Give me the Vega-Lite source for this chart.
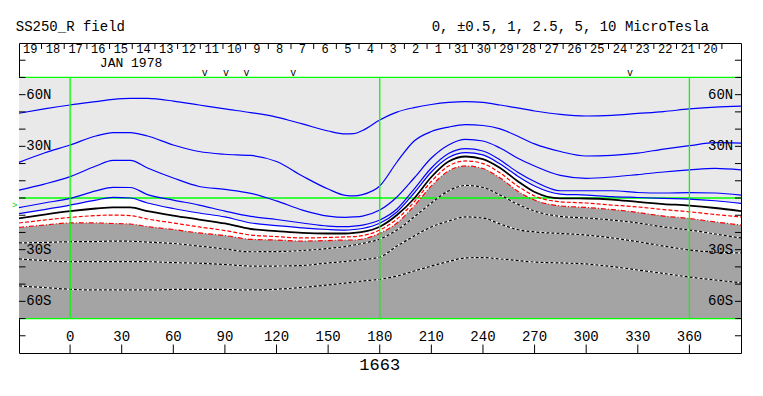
{
  "$schema": "https://vega.github.io/schema/vega-lite/v6.json",
  "width": 722,
  "height": 310,
  "autosize": {"type": "none"},
  "padding": {"left": 19, "top": 43, "right": 22, "bottom": 43},
  "background": "white",
  "config": {"view": {"stroke": "black", "strokeWidth": 1}, "text": {"font": "Liberation Mono", "fontSize": 14, "color": "black"}},
  "datasets": {
    "contours": [
      {"lon": -29.7, "L1": 49.2, "L2": 20.7, "L3": 4.6, "L4": -5.6, "L5": -9.1, "n0": -11.8, "m1": -14.5, "m2": -17.1, "m3": -26.1, "m4": -35.4, "m5": -51.1, "floor": -70},
      {"lon": -15, "L1": 51.7, "L2": 26.1, "L3": 8.1, "L4": -2.9, "L5": -6.7, "n0": -9.6, "m1": -12.8, "m2": -15.7, "m3": -25.8, "m4": -36.3, "m5": -52.0, "floor": -70},
      {"lon": 0, "L1": 54.0, "L2": 30.8, "L3": 12.4, "L4": -0.2, "L5": -4.1, "n0": -7.6, "m1": -11.3, "m2": -14.5, "m3": -25.4, "m4": -37.0, "m5": -53.0, "floor": -70},
      {"lon": 15, "L1": 56.0, "L2": 36.0, "L3": 18.6, "L4": 4.1, "L5": -1.2, "n0": -6.1, "m1": -10.2, "m2": -14.5, "m3": -25.3, "m4": -37.0, "m5": -53.4, "floor": -70},
      {"lon": 25, "L1": 57.3, "L2": 38.0, "L3": 21.8, "L4": 6.2, "L5": 0.4, "n0": -5.4, "m1": -9.9, "m2": -14.8, "m3": -25.0, "m4": -37.0, "m5": -53.4, "floor": -70},
      {"lon": 35, "L1": 57.9, "L2": 38.0, "L3": 21.8, "L4": 6.1, "L5": 0.0, "n0": -5.5, "m1": -10.2, "m2": -15.1, "m3": -25.1, "m4": -37.0, "m5": -53.4, "floor": -70},
      {"lon": 45, "L1": 57.8, "L2": 36.0, "L3": 17.4, "L4": 2.0, "L5": -2.9, "n0": -7.6, "m1": -12.2, "m2": -16.6, "m3": -25.6, "m4": -37.0, "m5": -53.4, "floor": -70},
      {"lon": 60, "L1": 56.3, "L2": 30.8, "L3": 11.6, "L4": -1.2, "L5": -6.1, "n0": -10.2, "m1": -14.5, "m2": -18.3, "m3": -26.4, "m4": -37.5, "m5": -53.1, "floor": -70},
      {"lon": 75, "L1": 54.0, "L2": 27.0, "L3": 6.7, "L4": -4.1, "L5": -8.7, "n0": -12.5, "m1": -16.8, "m2": -20.3, "m3": -27.9, "m4": -37.9, "m5": -53.0, "floor": -70},
      {"lon": 90, "L1": 51.7, "L2": 25.4, "L3": 5.0, "L4": -7.6, "L5": -11.0, "n0": -14.8, "m1": -18.9, "m2": -21.8, "m3": -29.6, "m4": -38.6, "m5": -53.1, "floor": -70},
      {"lon": 105, "L1": 49.6, "L2": 24.7, "L3": 2.7, "L4": -10.7, "L5": -14.5, "n0": -18.0, "m1": -21.5, "m2": -24.0, "m3": -31.2, "m4": -39.5, "m5": -53.4, "floor": -70},
      {"lon": 120, "L1": 47.0, "L2": 21.2, "L3": -1.7, "L4": -12.5, "L5": -16.0, "n0": -19.2, "m1": -22.4, "m2": -24.4, "m3": -31.1, "m4": -39.5, "m5": -53.0, "floor": -70},
      {"lon": 135, "L1": 43.0, "L2": 12.8, "L3": -7.0, "L4": -14.5, "L5": -17.4, "n0": -20.3, "m1": -23.2, "m2": -25.0, "m3": -30.5, "m4": -39.2, "m5": -51.9, "floor": -70},
      {"lon": 150, "L1": 38.9, "L2": 5.2, "L3": -10.5, "L4": -16.3, "L5": -18.3, "n0": -20.6, "m1": -22.9, "m2": -24.7, "m3": -29.3, "m4": -37.7, "m5": -50.5, "floor": -70},
      {"lon": 160, "L1": 37.2, "L2": 1.5, "L3": -11.2, "L4": -16.6, "L5": -18.6, "n0": -20.6, "m1": -22.6, "m2": -24.4, "m3": -28.2, "m4": -36.9, "m5": -49.4, "floor": -70},
      {"lon": 165, "L1": 37.4, "L2": 1.2, "L3": -11.0, "L4": -16.3, "L5": -18.3, "n0": -20.3, "m1": -22.4, "m2": -24.4, "m3": -27.3, "m4": -36.3, "m5": -48.8, "floor": -70},
      {"lon": 170, "L1": 39.2, "L2": 2.0, "L3": -10.5, "L4": -15.7, "L5": -17.7, "n0": -19.7, "m1": -21.8, "m2": -23.8, "m3": -26.4, "m4": -35.7, "m5": -48.2, "floor": -70},
      {"lon": 180, "L1": 45.3, "L2": 7.0, "L3": -7.0, "L4": -12.8, "L5": -14.7, "n0": -16.7, "m1": -18.6, "m2": -20.5, "m3": -23.8, "m4": -34.3, "m5": -47.2, "floor": -70},
      {"lon": 190, "L1": 49.9, "L2": 20.9, "L3": 0.6, "L4": -6.4, "L5": -8.1, "n0": -9.9, "m1": -12.2, "m2": -14.5, "m3": -18.6, "m4": -27.9, "m5": -45.3, "floor": -70},
      {"lon": 200, "L1": 52.5, "L2": 33.1, "L3": 11.6, "L4": 5.2, "L5": 2.9, "n0": -0.3, "m1": -2.3, "m2": -4.6, "m3": -11.0, "m4": -22.1, "m5": -42.4, "floor": -70},
      {"lon": 210, "L1": 54.3, "L2": 38.6, "L3": 23.2, "L4": 17.4, "L5": 15.1, "n0": 12.2, "m1": 9.6, "m2": 7.0, "m3": -2.9, "m4": -16.8, "m5": -39.5, "floor": -70},
      {"lon": 220, "L1": 55.5, "L2": 41.2, "L3": 30.8, "L4": 25.8, "L5": 23.5, "n0": 21.2, "m1": 18.6, "m2": 15.7, "m3": 4.1, "m4": -13.4, "m5": -36.9, "floor": -70},
      {"lon": 230, "L1": 56.0, "L2": 42.6, "L3": 34.0, "L4": 28.7, "L5": 26.4, "n0": 24.1, "m1": 21.5, "m2": 18.6, "m3": 7.3, "m4": -11.0, "m5": -34.8, "floor": -70},
      {"lon": 240, "L1": 55.5, "L2": 42.1, "L3": 33.1, "L4": 27.3, "L5": 25.0, "n0": 22.6, "m1": 20.0, "m2": 17.1, "m3": 6.1, "m4": -11.6, "m5": -34.6, "floor": -70},
      {"lon": 250, "L1": 54.0, "L2": 40.1, "L3": 29.0, "L4": 22.1, "L5": 19.7, "n0": 17.4, "m1": 14.5, "m2": 11.6, "m3": 1.7, "m4": -15.1, "m5": -35.4, "floor": -70},
      {"lon": 260, "L1": 52.3, "L2": 36.0, "L3": 23.2, "L4": 15.1, "L5": 12.8, "n0": 9.9, "m1": 7.0, "m2": 4.1, "m3": -3.5, "m4": -18.3, "m5": -36.3, "floor": -70},
      {"lon": 270, "L1": 50.5, "L2": 31.4, "L3": 18.6, "L4": 9.6, "L5": 7.0, "n0": 3.5, "m1": 1.2, "m2": -1.2, "m3": -7.6, "m4": -19.7, "m5": -37.2, "floor": -70},
      {"lon": 285, "L1": 48.5, "L2": 27.0, "L3": 13.1, "L4": 4.2, "L5": 2.3, "n0": -0.2, "m1": -2.2, "m2": -4.6, "m3": -10.7, "m4": -20.6, "m5": -37.7, "floor": -70},
      {"lon": 300, "L1": 47.6, "L2": 24.4, "L3": 11.4, "L4": 4.2, "L5": 1.7, "n0": -0.3, "m1": -2.9, "m2": -5.5, "m3": -11.6, "m4": -21.5, "m5": -38.3, "floor": -70},
      {"lon": 315, "L1": 48.0, "L2": 24.8, "L3": 12.2, "L4": 4.2, "L5": 0.8, "n0": -0.9, "m1": -4.1, "m2": -6.7, "m3": -12.8, "m4": -23.2, "m5": -39.8, "floor": -70},
      {"lon": 330, "L1": 49.1, "L2": 26.1, "L3": 13.6, "L4": 3.2, "L5": 0.3, "n0": -2.3, "m1": -5.2, "m2": -8.4, "m3": -14.5, "m4": -25.4, "m5": -41.8, "floor": -70},
      {"lon": 345, "L1": 50.2, "L2": 28.4, "L3": 15.1, "L4": 2.9, "L5": -0.2, "n0": -3.5, "m1": -6.7, "m2": -10.5, "m3": -16.8, "m4": -27.9, "m5": -43.8, "floor": -70},
      {"lon": 360, "L1": 51.7, "L2": 30.4, "L3": 16.3, "L4": 3.1, "L5": -0.6, "n0": -4.4, "m1": -8.0, "m2": -11.9, "m3": -18.6, "m4": -30.2, "m5": -45.9, "floor": -70},
      {"lon": 375, "L1": 52.8, "L2": 32.1, "L3": 17.2, "L4": 2.9, "L5": -1.6, "n0": -5.8, "m1": -9.6, "m2": -13.9, "m3": -20.9, "m4": -31.4, "m5": -47.6, "floor": -70},
      {"lon": 390, "L1": 53.4, "L2": 31.9, "L3": 16.3, "L4": 1.7, "L5": -3.1, "n0": -7.6, "m1": -11.0, "m2": -15.7, "m3": -23.2, "m4": -31.9, "m5": -49.2, "floor": -70}
    ],
    "dates": [
      {"lon": -23.2, "lat": 86.5, "label": "19"}, {"lon": -10.0, "lat": 86.5, "label": "18"}, {"lon": 3.2, "lat": 86.5, "label": "17"}, {"lon": 16.4, "lat": 86.5, "label": "16"},
      {"lon": 29.5, "lat": 86.5, "label": "15"}, {"lon": 42.7, "lat": 86.5, "label": "14"}, {"lon": 55.9, "lat": 86.5, "label": "13"}, {"lon": 69.1, "lat": 86.5, "label": "12"},
      {"lon": 82.3, "lat": 86.5, "label": "11"}, {"lon": 95.5, "lat": 86.5, "label": "10"}, {"lon": 108.6, "lat": 86.5, "label": "9"}, {"lon": 121.8, "lat": 86.5, "label": "8"},
      {"lon": 135.0, "lat": 86.5, "label": "7"}, {"lon": 148.2, "lat": 86.5, "label": "6"}, {"lon": 161.4, "lat": 86.5, "label": "5"}, {"lon": 174.6, "lat": 86.5, "label": "4"},
      {"lon": 187.7, "lat": 86.5, "label": "3"}, {"lon": 200.9, "lat": 86.5, "label": "2"}, {"lon": 214.1, "lat": 86.5, "label": "1"}, {"lon": 227.3, "lat": 86.5, "label": "31"},
      {"lon": 240.5, "lat": 86.5, "label": "30"}, {"lon": 253.7, "lat": 86.5, "label": "29"}, {"lon": 266.8, "lat": 86.5, "label": "28"}, {"lon": 280.0, "lat": 86.5, "label": "27"},
      {"lon": 293.2, "lat": 86.5, "label": "26"}, {"lon": 306.4, "lat": 86.5, "label": "25"}, {"lon": 319.6, "lat": 86.5, "label": "24"}, {"lon": 332.8, "lat": 86.5, "label": "23"},
      {"lon": 345.9, "lat": 86.5, "label": "22"}, {"lon": 359.1, "lat": 86.5, "label": "21"}, {"lon": 372.3, "lat": 86.5, "label": "20"}
    ],
    "vrules": [
      {"lon": -16.6, "lat": 90, "lat2": 86.5}, {"lon": -3.42, "lat": 90, "lat2": 86.5}, {"lon": 9.77, "lat": 90, "lat2": 86.5}, {"lon": 22.95, "lat": 90, "lat2": 86.5},
      {"lon": 36.13, "lat": 90, "lat2": 86.5}, {"lon": 49.32, "lat": 90, "lat2": 86.5}, {"lon": 62.5, "lat": 90, "lat2": 86.5}, {"lon": 75.68, "lat": 90, "lat2": 86.5},
      {"lon": 88.86, "lat": 90, "lat2": 86.5}, {"lon": 102.05, "lat": 90, "lat2": 86.5}, {"lon": 115.23, "lat": 90, "lat2": 86.5}, {"lon": 128.41, "lat": 90, "lat2": 86.5},
      {"lon": 141.6, "lat": 90, "lat2": 86.5}, {"lon": 154.78, "lat": 90, "lat2": 86.5}, {"lon": 167.96, "lat": 90, "lat2": 86.5}, {"lon": 181.15, "lat": 90, "lat2": 86.5},
      {"lon": 194.33, "lat": 90, "lat2": 86.5}, {"lon": 207.51, "lat": 90, "lat2": 86.5}, {"lon": 220.69, "lat": 90, "lat2": 86.5}, {"lon": 233.88, "lat": 90, "lat2": 86.5},
      {"lon": 247.06, "lat": 90, "lat2": 86.5}, {"lon": 260.24, "lat": 90, "lat2": 86.5}, {"lon": 273.43, "lat": 90, "lat2": 86.5}, {"lon": 286.61, "lat": 90, "lat2": 86.5},
      {"lon": 299.79, "lat": 90, "lat2": 86.5}, {"lon": 312.98, "lat": 90, "lat2": 86.5}, {"lon": 326.16, "lat": 90, "lat2": 86.5}, {"lon": 339.34, "lat": 90, "lat2": 86.5},
      {"lon": 352.52, "lat": 90, "lat2": 86.5}, {"lon": 365.71, "lat": 90, "lat2": 86.5}, {"lon": 378.89, "lat": 90, "lat2": 86.5},
      {"lon": 0, "lat": -85.1, "lat2": -90}, {"lon": 30, "lat": -85.1, "lat2": -90}, {"lon": 60, "lat": -85.1, "lat2": -90}, {"lon": 90, "lat": -85.1, "lat2": -90},
      {"lon": 120, "lat": -85.1, "lat2": -90}, {"lon": 150, "lat": -85.1, "lat2": -90}, {"lon": 180, "lat": -85.1, "lat2": -90}, {"lon": 210, "lat": -85.1, "lat2": -90},
      {"lon": 240, "lat": -85.1, "lat2": -90}, {"lon": 270, "lat": -85.1, "lat2": -90}, {"lon": 300, "lat": -85.1, "lat2": -90}, {"lon": 330, "lat": -85.1, "lat2": -90},
      {"lon": 360, "lat": -85.1, "lat2": -90}
    ],
    "hrules": [
      {"lat": -80, "lon": -29.7, "lon2": -25.9}, {"lat": -70, "lon": -29.7, "lon2": -25.9}, {"lat": -60, "lon": -29.7, "lon2": -25.9}, {"lat": -50, "lon": -29.7, "lon2": -25.9},
      {"lat": -40, "lon": -29.7, "lon2": -25.9}, {"lat": -30, "lon": -29.7, "lon2": -25.9}, {"lat": -20, "lon": -29.7, "lon2": -25.9}, {"lat": -10, "lon": -29.7, "lon2": -25.9},
      {"lat": 0, "lon": -29.7, "lon2": -25.9}, {"lat": 10, "lon": -29.7, "lon2": -25.9}, {"lat": 20, "lon": -29.7, "lon2": -25.9}, {"lat": 30, "lon": -29.7, "lon2": -25.9},
      {"lat": 40, "lon": -29.7, "lon2": -25.9}, {"lat": 50, "lon": -29.7, "lon2": -25.9}, {"lat": 60, "lon": -29.7, "lon2": -25.9}, {"lat": 70, "lon": -29.7, "lon2": -25.9},
      {"lat": 80, "lon": -29.7, "lon2": -25.9},
      {"lat": -80, "lon": 386.5, "lon2": 390}, {"lat": -70, "lon": 386.5, "lon2": 390}, {"lat": -60, "lon": 386.5, "lon2": 390}, {"lat": -50, "lon": 386.5, "lon2": 390},
      {"lat": -40, "lon": 386.5, "lon2": 390}, {"lat": -30, "lon": 386.5, "lon2": 390}, {"lat": -20, "lon": 386.5, "lon2": 390}, {"lat": -10, "lon": 386.5, "lon2": 390},
      {"lat": 0, "lon": 386.5, "lon2": 390}, {"lat": 10, "lon": 386.5, "lon2": 390}, {"lat": 20, "lon": 386.5, "lon2": 390}, {"lat": 30, "lon": 386.5, "lon2": 390},
      {"lat": 40, "lon": 386.5, "lon2": 390}, {"lat": 50, "lon": 386.5, "lon2": 390}, {"lat": 60, "lon": 386.5, "lon2": 390}, {"lat": 70, "lon": 386.5, "lon2": 390},
      {"lat": 80, "lon": 386.5, "lon2": 390}
    ],
    "labels": [
      {"lon": 0, "lat": -80.9, "label": "0"}, {"lon": 30, "lat": -80.9, "label": "30"},
      {"lon": 60, "lat": -80.9, "label": "60"}, {"lon": 90, "lat": -80.9, "label": "90"},
      {"lon": 120, "lat": -80.9, "label": "120"}, {"lon": 150, "lat": -80.9, "label": "150"},
      {"lon": 180, "lat": -80.9, "label": "180"}, {"lon": 210, "lat": -80.9, "label": "210"},
      {"lon": 240, "lat": -80.9, "label": "240"}, {"lon": 270, "lat": -80.9, "label": "270"},
      {"lon": 300, "lat": -80.9, "label": "300"}, {"lon": 330, "lat": -80.9, "label": "330"},
      {"lon": 360, "lat": -80.9, "label": "360"}
    ],
    "leftLabels": [
      {"lon": -25.5, "lat": 60, "label": "60N"}, {"lon": -25.5, "lat": 30, "label": "30N"}, {"lon": -25.5, "lat": -30, "label": "30S"}, {"lon": -25.5, "lat": -60, "label": "60S"},
      {"lon": -31.6, "lat": 99.1, "label": "SS250_R field"},
      {"lon": 210.2, "lat": 99.1, "label": "0, ±0.5, 1, 2.5, 5, 10 MicroTesla"}
    ],
    "rightLabels": [
      {"lon": 385.5, "lat": 60, "label": "60N"}, {"lon": 385.5, "lat": 30, "label": "30N"}, {"lon": 385.5, "lat": -30, "label": "30S"}, {"lon": 385.5, "lat": -60, "label": "60S"}
    ],
    "obs": [
      {"lon": 78.3, "lat": 70.6, "label": "v"}, {"lon": 90.6, "lat": 70.6, "label": "v"}, {"lon": 102.6, "lat": 70.6, "label": "v"}, {"lon": 129.7, "lat": 70.6, "label": "v"}, {"lon": 325.5, "lat": 70.6, "label": "v"}
    ]
  },
  "layer": [
    {
      "data": {"values": [{"lon": -29.7, "lon2": 390, "lat": 70, "lat2": -70}]},
      "mark": {"type": "rect", "fill": "#e9e9e9"},
      "encoding": {
        "x": {"field": "lon", "type": "quantitative", "scale": {"domain": [-29.7, 390], "nice": false, "zero": false}, "axis": null},
        "x2": {"field": "lon2"},
        "y": {"field": "lat", "type": "quantitative", "scale": {"domain": [-90, 90], "nice": false, "zero": false}, "axis": null},
        "y2": {"field": "lat2"}
      }
    },
    {
      "data": {"name": "contours"},
      "mark": {"type": "area", "color": "white", "interpolate": "monotone"},
      "encoding": {
        "x": {"field": "lon", "type": "quantitative", "axis": null},
        "y": {"field": "L5", "type": "quantitative", "axis": null},
        "y2": {"field": "floor"}
      }
    },
    {
      "data": {"name": "contours"},
      "mark": {"type": "area", "color": "#a4a4a4", "interpolate": "monotone"},
      "encoding": {
        "x": {"field": "lon", "type": "quantitative", "axis": null},
        "y": {"field": "m2", "type": "quantitative", "axis": null},
        "y2": {"field": "floor"}
      }
    },
    {
      "data": {"values": [{"lat": 0}, {"lat": 70}, {"lat": -70}]},
      "mark": {"type": "rule", "color": "#00ff00", "strokeWidth": 1.3},
      "encoding": {
        "y": {"field": "lat", "type": "quantitative", "axis": null}
      }
    },
    {
      "data": {"name": "contours"},
      "transform": [{"fold": ["m3", "m4", "m5"], "as": ["line", "lat"]}],
      "mark": {"type": "line", "color": "white", "strokeWidth": 1.2, "interpolate": "monotone"},
      "encoding": {
        "x": {"field": "lon", "type": "quantitative", "axis": null},
        "y": {"field": "lat", "type": "quantitative", "axis": null},
        "detail": {"field": "line", "type": "nominal"}
      }
    },
    {
      "data": {"name": "contours"},
      "transform": [{"fold": ["m3", "m4", "m5"], "as": ["line", "lat"]}],
      "mark": {"type": "line", "color": "black", "strokeWidth": 1.2, "strokeDash": [3, 2], "interpolate": "monotone"},
      "encoding": {
        "x": {"field": "lon", "type": "quantitative", "axis": null},
        "y": {"field": "lat", "type": "quantitative", "axis": null},
        "detail": {"field": "line", "type": "nominal"}
      }
    },
    {
      "data": {"name": "contours"},
      "transform": [{"fold": ["L1", "L2", "L3", "L4", "L5"], "as": ["line", "lat"]}],
      "mark": {"type": "line", "color": "#0000ff", "strokeWidth": 1.2, "interpolate": "monotone"},
      "encoding": {
        "x": {"field": "lon", "type": "quantitative", "axis": null},
        "y": {"field": "lat", "type": "quantitative", "axis": null},
        "detail": {"field": "line", "type": "nominal"}
      }
    },
    {
      "data": {"name": "contours"},
      "mark": {"type": "line", "color": "black", "strokeWidth": 1.8, "interpolate": "monotone"},
      "encoding": {
        "x": {"field": "lon", "type": "quantitative", "axis": null},
        "y": {"field": "n0", "type": "quantitative", "axis": null}
      }
    },
    {
      "data": {"name": "contours"},
      "mark": {"type": "line", "color": "#ff0000", "strokeWidth": 1.2, "strokeDash": [4, 2], "interpolate": "monotone"},
      "encoding": {
        "x": {"field": "lon", "type": "quantitative", "axis": null},
        "y": {"field": "m1", "type": "quantitative", "axis": null}
      }
    },
    {
      "data": {"name": "contours"},
      "mark": {"type": "line", "color": "#ff0000", "strokeWidth": 1.2, "strokeDash": [5, 2, 1, 2], "interpolate": "monotone"},
      "encoding": {
        "x": {"field": "lon", "type": "quantitative", "axis": null},
        "y": {"field": "m2", "type": "quantitative", "axis": null}
      }
    },
    {
      "data": {"values": [{"lon": 0, "lat": 70, "lat2": -70}, {"lon": 180, "lat": 70, "lat2": -70}, {"lon": 360, "lat": 70, "lat2": -70}]},
      "mark": {"type": "rule", "color": "#00ff00", "strokeWidth": 1.3},
      "encoding": {
        "x": {"field": "lon", "type": "quantitative", "axis": null},
        "y": {"field": "lat", "type": "quantitative", "axis": null},
        "y2": {"field": "lat2"}
      }
    },
    {
      "data": {"name": "hrules"},
      "mark": {"type": "rule", "color": "black", "strokeWidth": 1},
      "encoding": {
        "y": {"field": "lat", "type": "quantitative", "axis": null},
        "x": {"field": "lon", "type": "quantitative", "axis": null},
        "x2": {"field": "lon2"}
      }
    },
    {
      "data": {"name": "vrules"},
      "mark": {"type": "rule", "color": "black", "strokeWidth": 1},
      "encoding": {
        "x": {"field": "lon", "type": "quantitative", "axis": null},
        "y": {"field": "lat", "type": "quantitative", "axis": null},
        "y2": {"field": "lat2"}
      }
    },
    {
      "data": {"name": "labels"},
      "mark": {"type": "text", "baseline": "middle", "align": "center"},
      "encoding": {
        "x": {"field": "lon", "type": "quantitative", "axis": null},
        "y": {"field": "lat", "type": "quantitative", "axis": null},
        "text": {"field": "label"}
      }
    },
    {
      "data": {"name": "dates"},
      "mark": {"type": "text", "baseline": "middle", "align": "center", "fontSize": 12},
      "encoding": {
        "x": {"field": "lon", "type": "quantitative", "axis": null},
        "y": {"field": "lat", "type": "quantitative", "axis": null},
        "text": {"field": "label"}
      }
    },
    {
      "data": {"values": [{"lon": 17.3, "lat": 78.6, "label": "JAN 1978"}]},
      "mark": {"type": "text", "baseline": "middle", "align": "left", "fontSize": 13},
      "encoding": {
        "x": {"field": "lon", "type": "quantitative", "axis": null},
        "y": {"field": "lat", "type": "quantitative", "axis": null},
        "text": {"field": "label"}
      }
    },
    {
      "data": {"name": "obs"},
      "mark": {"type": "text", "baseline": "alphabetic", "align": "center", "fontSize": 10},
      "encoding": {
        "x": {"field": "lon", "type": "quantitative", "axis": null},
        "y": {"field": "lat", "type": "quantitative", "axis": null},
        "text": {"field": "label"}
      }
    },
    {
      "data": {"name": "leftLabels"},
      "mark": {"type": "text", "baseline": "middle", "align": "left"},
      "encoding": {
        "x": {"field": "lon", "type": "quantitative", "axis": null},
        "y": {"field": "lat", "type": "quantitative", "axis": null},
        "text": {"field": "label"}
      }
    },
    {
      "data": {"name": "rightLabels"},
      "mark": {"type": "text", "baseline": "middle", "align": "right"},
      "encoding": {
        "x": {"field": "lon", "type": "quantitative", "axis": null},
        "y": {"field": "lat", "type": "quantitative", "axis": null},
        "text": {"field": "label"}
      }
    },
    {
      "data": {"values": [{"lon": 180, "lat": -97.0, "label": "1663"}]},
      "mark": {"type": "text", "baseline": "middle", "align": "center", "fontSize": 17},
      "encoding": {
        "x": {"field": "lon", "type": "quantitative", "axis": null},
        "y": {"field": "lat", "type": "quantitative", "axis": null},
        "text": {"field": "label"}
      }
    },
    {
      "data": {"values": [{"lon": -32.2, "lat": -4.1, "label": ">"}]},
      "mark": {"type": "text", "baseline": "middle", "align": "center", "fontSize": 9, "color": "#00cc00"},
      "encoding": {
        "x": {"field": "lon", "type": "quantitative", "axis": null},
        "y": {"field": "lat", "type": "quantitative", "axis": null},
        "text": {"field": "label"}
      }
    }
  ]
}
